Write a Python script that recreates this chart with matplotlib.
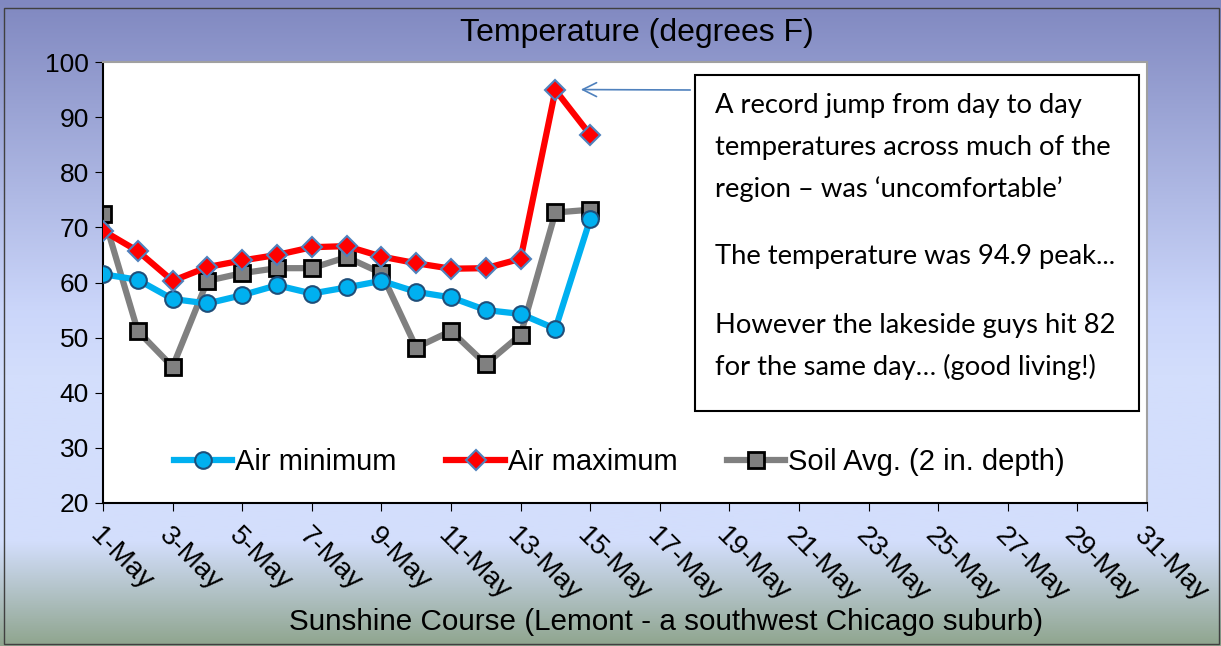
import numpy as np
import matplotlib.pyplot as plt
from matplotlib.colors import LinearSegmentedColormap
from matplotlib.patches import Rectangle

days = list(range(1, 16))
air_min = [61.5, 60.5, 57.0, 56.2, 57.7, 59.5, 58.0, 59.1, 60.3, 58.3, 57.3, 55.0, 54.3, 51.6, 71.5]
air_max = [69.4, 65.7, 60.3, 62.8, 64.0, 65.0, 66.4, 66.6, 64.7, 63.5, 62.5, 62.6, 64.3, 94.9, 86.8]
soil_avg = [72.4, 51.2, 44.7, 60.3, 61.7, 62.6, 62.6, 64.6, 61.7, 48.2, 51.2, 45.2, 50.5, 72.7, 73.2]
tick_days = list(range(1, 32, 2))
tick_labels = [f"{d}-May" for d in tick_days]

note_lines = ["A record jump from day to day",
              "temperatures across much of the",
              "region \u2013 was \u2018uncomfortable\u2019",
              "The temperature was 94.9 peak...",
              "However the lakeside guys hit 82",
              "for the same day\u2026 (good living!)"]

plt.rcParams['font.family'] = ['Liberation Sans', 'DejaVu Sans']

fig = plt.figure(figsize=(12.21, 6.46), dpi=100)

# background gradient (top = purple, bottom = grey-green)
bg = fig.add_axes([0, 0, 1, 1], zorder=-10)
bg.set_axis_off()
cmap = LinearSegmentedColormap.from_list('bg', [
    (0.0, '#8088C0'), (0.48, '#CBD6FA'), (0.58, '#D3DEFC'),
    (0.84, '#D3DEFC'), (1.0, '#8FA58E')])
grad = np.linspace(0, 1, 256).reshape(-1, 1)
bg.imshow(grad, aspect='auto', cmap=cmap, extent=[0, 1, 0, 1], origin='upper')
bg.set_xlim(0, 1)
bg.set_ylim(0, 1)
bg.add_patch(Rectangle((0.003, 0.003), 0.995, 0.984, fill=False,
                       edgecolor='#404040', lw=1, transform=bg.transAxes))

ax = fig.add_axes([103 / 1221, 1 - 503 / 646, 1044 / 1221, 441 / 646])
ax.set_facecolor('white')

ax.plot(days, air_min, color='#00B0F0', lw=4.5, marker='o', ms=12,
        mfc='#00B0F0', mec='#1F4E79', mew=1.5, label='Air minimum', zorder=3)
ax.plot(days, air_max, color='#FF0000', lw=4.5, marker='D', ms=10.5,
        mfc='#FF0000', mec='#4F81BD', mew=1.5, label='Air maximum', zorder=4)
ax.plot(days, soil_avg, color='#808080', lw=4.5, marker='s', ms=12,
        mfc='#808080', mec='black', mew=2, label='Soil Avg. (2 in. depth)', zorder=2)

ax.set_xlim(1, 31)
ax.set_ylim(20, 100)
ax.set_yticks(range(20, 101, 10))
ax.set_xticks(tick_days)
ax.set_xticklabels(tick_labels, rotation=-45, ha='left', va='top',
                   rotation_mode='anchor', fontsize=20)
ax.tick_params(axis='y', labelsize=19, length=6, direction='out', pad=4)
ax.tick_params(axis='x', length=6, direction='out', pad=8)
for s in ['left', 'bottom']:
    ax.spines[s].set_color('black')
    ax.spines[s].set_linewidth(1.5)
for s in ['top', 'right']:
    ax.spines[s].set_color('#A0A0A0')
    ax.spines[s].set_linewidth(1.5)

ax.legend(loc='center left', bbox_to_anchor=(0.043, 0.093), ncol=3, frameon=False,
          fontsize=21, handlelength=2.0, handletextpad=0.1, columnspacing=1.7)

fig.text(0.522, 1 - 33 / 646, 'Temperature (degrees F)', ha='center', va='center', fontsize=23)
fig.text(666 / 1221, 1 - 622 / 646, 'Sunshine Course (Lemont - a southwest Chicago suburb)',
         ha='center', va='center', fontsize=21.3)

# annotation box
box = Rectangle((695 / 1221, 1 - 411 / 646), 444 / 1221, 336 / 646, transform=fig.transFigure,
                facecolor='white', edgecolor='black', lw=1.5, zorder=5)
fig.patches.append(box)
ys = [105, 147, 189, 257, 325, 367]
for line, y in zip(note_lines, ys):
    fig.text(715 / 1221, 1 - y / 646, line, ha='left', va='center', fontsize=19.7,
             family=['Lato', 'DejaVu Sans'], zorder=6)

ax.annotate('', xy=(14.65, 95), xycoords='data',
            xytext=(693 / 1221, 1 - 90 / 646), textcoords='figure fraction',
            arrowprops=dict(arrowstyle='->,head_length=1.0,head_width=0.5',
                            color='#4F81BD', lw=1.2))

fig.savefig('out.png', dpi=100)
